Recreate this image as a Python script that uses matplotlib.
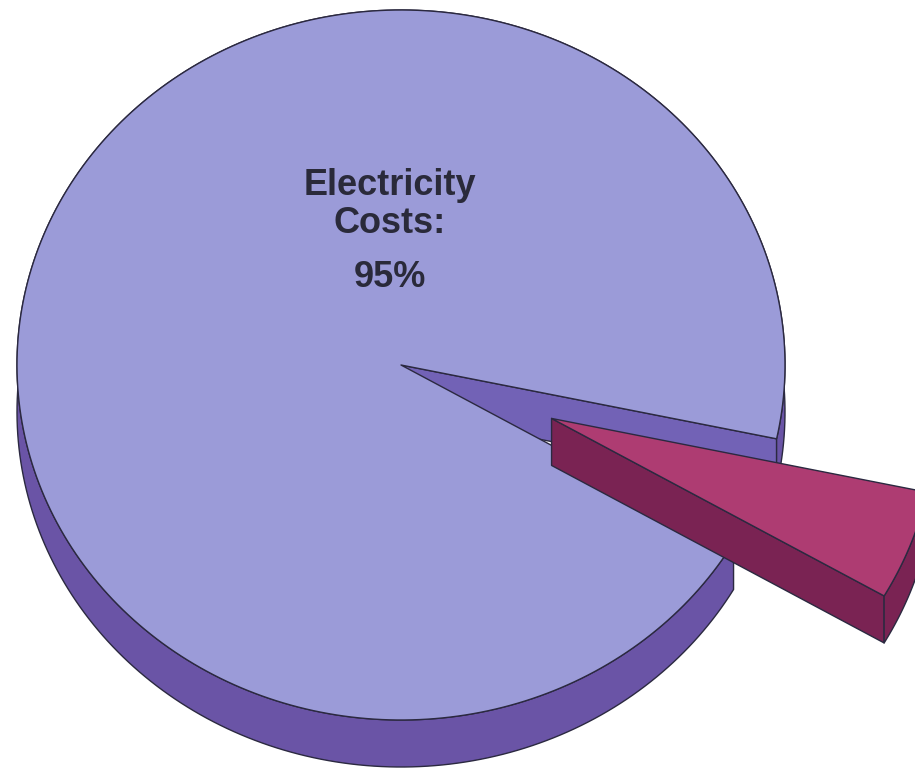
"""Exploded 3-D pie: share of electricity in total costs."""

import matplotlib

matplotlib.use("Agg")
import matplotlib.pyplot as plt
import numpy as np
from matplotlib.patches import Polygon

labels = ["Electricity Costs", "Other Costs"]
shares = [95, 5]
exploded = [False, True]

# canvas / projection (pixels, y grows downward)
W, H = 915, 770
CX, CY = 401, 365
RX, RY = 384, 355
DEPTH = 47
EXPLODE = 0.42
START = 12.0  # screen angle (deg, clockwise) where the small slice begins

TOP = ["#9b9bd8", "#ae3c72"]
SIDE = ["#6a54a6", "#7a2353"]
CUT = ["#7262b6", "#7a2353"]
EDGE = "#2b2940"


def rim(t, ox=0.0, oy=0.0, dz=0.0):
    t = np.radians(np.atleast_1d(t))
    return np.column_stack([CX + ox + RX * np.cos(t), CY + oy + dz + RY * np.sin(t)])


def add(ax, pts, color, z):
    ax.add_patch(Polygon(pts, closed=True, facecolor=color, edgecolor=EDGE,
                         linewidth=1.0, joinstyle="round", zorder=z))


# slice angle ranges, small slice first from START
total = sum(shares)
ranges = {}
a = START
for i in sorted(range(len(shares)), key=lambda k: shares[k]):
    span = 360.0 * shares[i] / total
    ranges[i] = (a, a + span)
    a += span

fig = plt.figure(figsize=(W / 100, H / 100), dpi=100)
ax = fig.add_axes([0, 0, 1, 1])
ax.set_xlim(0, W)
ax.set_ylim(H, 0)
ax.axis("off")

z = 1
for i in range(len(shares)):
    t0, t1 = ranges[i]
    tm = np.radians((t0 + t1) / 2)
    ox = EXPLODE * RX * np.cos(tm) if exploded[i] else 0.0
    oy = EXPLODE * RY * np.sin(tm) if exploded[i] else 0.0
    arc = np.linspace(t0, t1, 300)
    top = rim(arc, ox, oy)
    bot = rim(arc, ox, oy, DEPTH)
    tip = np.array([[CX + ox, CY + oy]])
    tip_b = tip + [0, DEPTH]

    # radial cut face at the clockwise end faces the viewer
    cut = np.vstack([tip, rim(t1, ox, oy), rim(t1, ox, oy, DEPTH), tip_b])
    add(ax, cut, CUT[i], z)
    # outer rim side
    add(ax, np.vstack([top, bot[::-1]]), SIDE[i], z + 1)
    # top face
    add(ax, np.vstack([tip, top]), TOP[i], z + 2)
    z += 3

# label of the big slice
label_lines = labels[0].split() + [f"{shares[0]}%"]
label_lines[1] += ":"
for line, yb in zip(label_lines, [195, 233, 287]):
    ax.text(390, yb, line, ha="center", va="baseline", fontsize=26,
            fontweight="bold", family=["Liberation Sans", "DejaVu Sans"],
            color="#2a2a3a", zorder=20)

fig.savefig("out.png", dpi=100)
